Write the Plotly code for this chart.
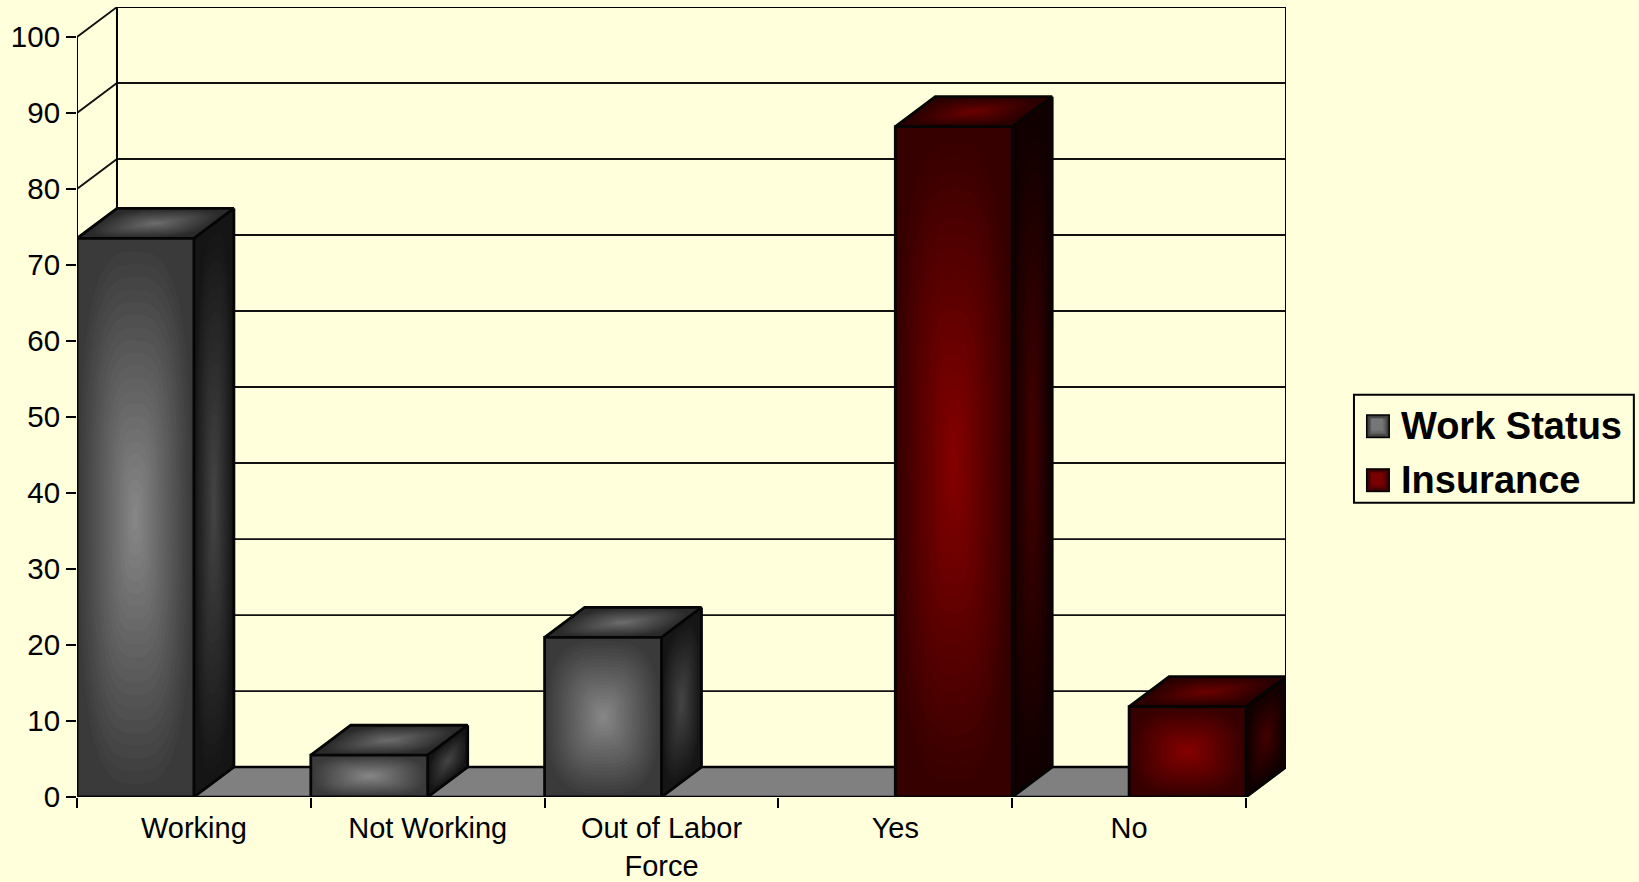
import math
import plotly.graph_objects as go

# ---- data ----
categories = ["Working", "Not Working", "Out of Labor<br>Force", "Yes", "No"]
work_status = [73.5, 5.5, 21, None, None]
insurance = [None, None, None, 88.2, 11.9]
y_ticks = [0, 10, 20, 30, 40, 50, 60, 70, 80, 90, 100]

# ---- layout constants (pixels) ----
W, H = 1639, 882
L, R, T, B = 76.5, 1286, 6.5, 797
BG = "#FFFFDC"
DEPTH_PX_X, DEPTH_PX_Y = 40, 30
cat_px = (1246 - 76.5) / 5
unit_px = (797 - 36) / 100
DX = DEPTH_PX_X / cat_px
DY = DEPTH_PX_Y / unit_px
X0, X1 = -0.5, 4.5
BAR_W = 0.5
N_RINGS = 22
SUPER_P = 3.0
N_PTS = 48

GREY = {"front": ("#3a3a3a", "#868686"), "top": ("#2a2a2a", "#6c6c6c"), "side": ("#151515", "#444444")}
RED = {"front": ("#360000", "#840000"), "top": ("#2a0000", "#6a0000"), "side": ("#100000", "#420000")}


def lerp(c0, c1, t):
    a = [int(c0[i:i + 2], 16) for i in (1, 3, 5)]
    b = [int(c1[i:i + 2], 16) for i in (1, 3, 5)]
    return "rgb(%d,%d,%d)" % tuple(round(p + (q - p) * t) for p, q in zip(a, b))


def line_trace(xs, ys, width=2, color="black"):
    return go.Scatter(x=xs, y=ys, mode="lines", line=dict(color=color, width=width),
                      showlegend=False, hoverinfo="skip", cliponaxis=False)


def face(corners, colors):
    """Graded face: base polygon plus rounded nested contours in the face's own skewed frame."""
    c0, c1, c2, c3 = corners
    cx = sum(p[0] for p in corners) / 4
    cy = sum(p[1] for p in corners) / 4
    ux, uy = (c1[0] - c0[0]) / 2, (c1[1] - c0[1]) / 2
    vx, vy = (c3[0] - c0[0]) / 2, (c3[1] - c0[1]) / 2
    out = []
    col = lerp(colors[0], colors[1], 0)
    xs = [p[0] for p in corners] + [c0[0]]
    ys = [p[1] for p in corners] + [c0[1]]
    out.append(go.Scatter(x=xs, y=ys, mode="lines", fill="toself", fillcolor=col,
                          line=dict(width=0, color=col), showlegend=False, hoverinfo="skip"))
    for i in range(1, N_RINGS):
        s = 1 - i / N_RINGS
        xs, ys = [], []
        for k in range(N_PTS + 1):
            a = 2 * math.pi * k / N_PTS
            ca, sa = math.cos(a), math.sin(a)
            u = s * math.copysign(abs(ca) ** (2 / SUPER_P), ca)
            v = s * math.copysign(abs(sa) ** (2 / SUPER_P), sa)
            xs.append(cx + u * ux + v * vx)
            ys.append(cy + u * uy + v * vy)
        col = lerp(colors[0], colors[1], i / (N_RINGS - 1))
        out.append(go.Scatter(x=xs, y=ys, mode="lines", fill="toself", fillcolor=col,
                              line=dict(width=0, color=col), showlegend=False,
                              hoverinfo="skip"))
    return out


fig = go.Figure()

# native grouped bars (carry data and legend); 3D faces are built from the same values
fig.add_trace(go.Bar(name="Work Status", x=list(range(5)), y=work_status, legendgroup="a",
                     marker=dict(color="#767676", line=dict(width=0))))
fig.add_trace(go.Bar(name="Insurance", x=list(range(5)), y=insurance, legendgroup="b",
                     marker=dict(color="#7a0000", line=dict(width=0))))

# floor
fig.add_trace(go.Scatter(x=[X0, X0 + DX, X1 + DX, X1, X0], y=[0, DY, DY, 0, 0], mode="lines",
                         fill="toself", fillcolor="#808080", line=dict(width=0, color="#808080"),
                         showlegend=False, hoverinfo="skip"))

# walls: grid lines on back wall and obliques on side wall
gx, gy = [], []
for v in y_ticks:
    gx += [X0, X0 + DX, X1 + DX, None]
    gy += [v, v + DY, v + DY, None]
fig.add_trace(line_trace(gx, gy, 1.8, "#111111"))
fig.add_trace(line_trace([X0 + DX, X1 + DX], [100 + DY, 100 + DY], 2.2))
fig.add_trace(line_trace([X0 + DX, X0 + DX], [DY, 100 + DY], 2))
fig.add_trace(line_trace([X1 + DX, X1 + DX], [DY, 100 + DY], 2))
fig.add_trace(line_trace([X0, X0], [0, 100], 2))
fig.add_trace(line_trace([X0 + DX, X1 + DX], [DY, DY], 2.4))
fig.add_trace(line_trace([X1, X1 + DX], [0, DY], 2))
fig.add_trace(line_trace([X0, X1], [0, 0], 2.4))


def add_box(xc, v, colors):
    x0, x1 = xc, xc + BAR_W
    for tr in face([(x1, 0), (x1 + DX, DY), (x1 + DX, v + DY), (x1, v)], colors["side"]):
        fig.add_trace(tr)
    for tr in face([(x0, v), (x1, v), (x1 + DX, v + DY), (x0 + DX, v + DY)], colors["top"]):
        fig.add_trace(tr)
    for tr in face([(x0, 0), (x1, 0), (x1, v), (x0, v)], colors["front"]):
        fig.add_trace(tr)
    fig.add_trace(line_trace(
        [x0, x0, x1, x1, x0, None, x0, x0 + DX, x1 + DX, x1, None, x1 + DX, x1 + DX, x1],
        [0, v, v, 0, 0, None, v, v + DY, v + DY, v, None, v + DY, DY, 0], 2.8, "#050505"))


for i, v in enumerate(work_status):
    if v is not None:
        add_box(i - BAR_W, v, GREY)
for i, v in enumerate(insurance):
    if v is not None:
        add_box(i, v, RED)

# legend frame and graded keys behind the native legend entries
pw, ph = R - L, B - T


def px_rect(x0, x1, y0, y1, fill, line=None):
    return dict(type="rect", xref="paper", yref="paper", layer="above",
                x0=(x0 - L) / pw, x1=(x1 - L) / pw, y0=(B - y1) / ph, y1=(B - y0) / ph,
                fillcolor=fill, line=line or dict(width=0))


def swatch(cx, cy, colors):
    shapes = [px_rect(cx - 12, cx + 12, cy - 12, cy + 12, "black")]
    n = 5
    for i in range(n):
        h = 10.5 - i
        shapes.append(px_rect(cx - h, cx + h, cy - h, cy + h, lerp(colors[0], colors[1], i / (n - 1))))
    return shapes


legend_frame = px_rect(1354, 1634, 394.5, 502.5, "rgba(0,0,0,0)", dict(color="black", width=2))

fig.update_layout(
    width=W, height=H, margin=dict(l=L, r=W - R, t=T, b=H - B, pad=0),
    paper_bgcolor=BG, plot_bgcolor=BG, barmode="group", bargap=0, bargroupgap=0,
    font=dict(family="Liberation Sans, Arial, sans-serif", color="black", size=29.5),
    hovermode=False,
    shapes=[legend_frame] + swatch(1378, 426, ("#3a3a3a", "#6a6a6a")) + swatch(1378, 480, ("#3a0000", "#6a0000")),
    legend=dict(x=(1353 - L) / pw, y=(B - 393) / ph,
                xanchor="left", yanchor="top", bgcolor="rgba(0,0,0,0)",
                borderwidth=0, itemwidth=38, tracegroupgap=1.6, traceorder="grouped",
                font=dict(size=38, family="Liberation Sans, Arial, sans-serif", weight="bold"),
                itemclick=False, itemdoubleclick=False),
    xaxis=dict(range=[X0, X1 + DX], showgrid=False, zeroline=False, showline=False, automargin=False,
               tickmode="array", tickvals=list(range(5)), ticktext=categories, ticks="",
               ticklabelstandoff=11, tickfont=dict(size=29),
               minor=dict(tickmode="array", tickvals=[i - 0.5 for i in range(6)], ticks="outside",
                          ticklen=10, tickwidth=2, tickcolor="black", showgrid=False)),
    yaxis=dict(range=[0, 100 + DY], showgrid=False, zeroline=False, showline=False, automargin=False,
               tickmode="array", tickvals=y_ticks, ticks="outside", ticklen=10, tickwidth=2,
               tickcolor="black", ticklabelstandoff=0, tickfont=dict(size=29.5)),
)

fig.write_html("out.html", config={"displayModeBar": False},
               post_script="document.body.style.margin='0';document.body.style.background='%s';" % BG)
